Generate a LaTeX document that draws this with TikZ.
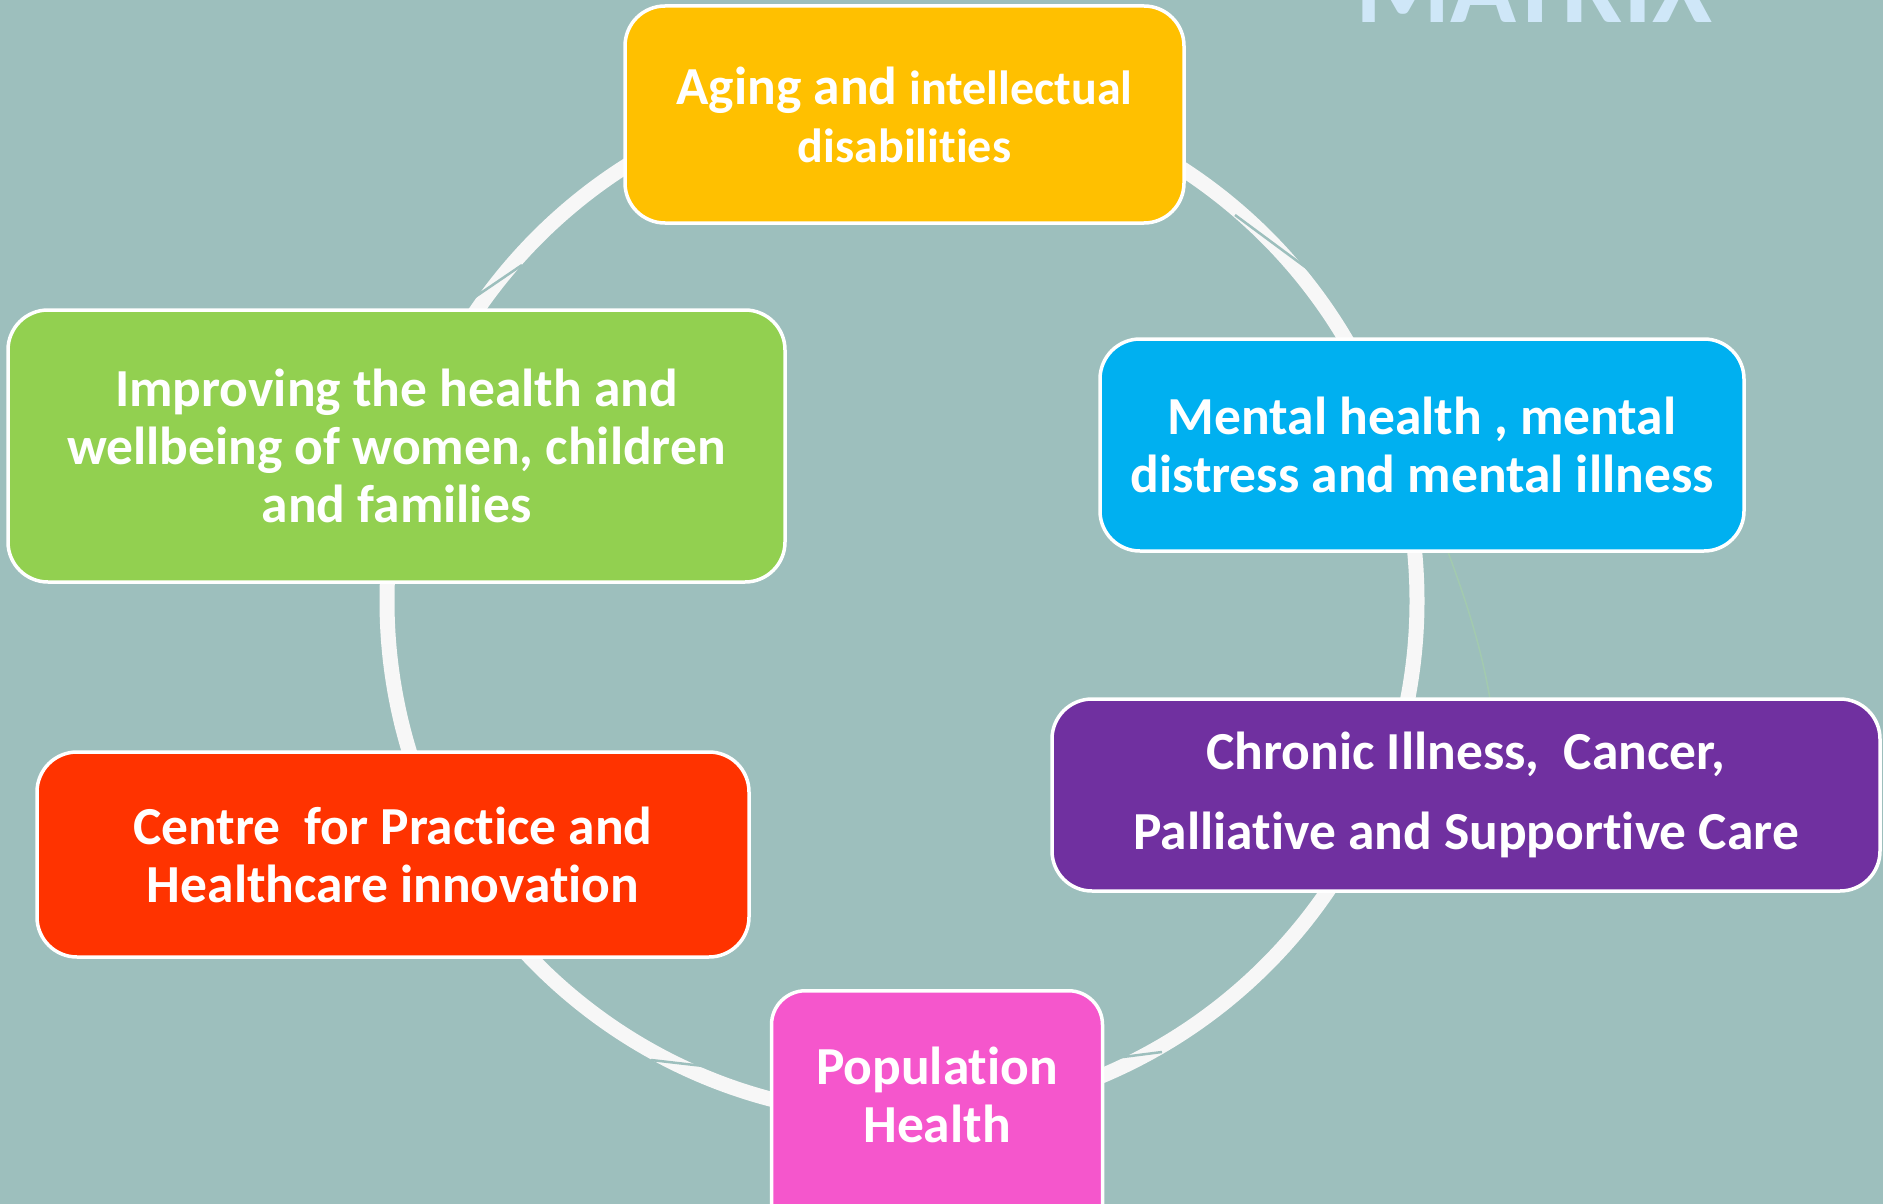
\documentclass[tikz,border=0pt]{standalone}
\usepackage{fontspec}
\setmainfont{Carlito}[Ligatures=NoCommon]
\definecolor{bgteal}{HTML}{9DBFBD}
\definecolor{ringwhite}{HTML}{F7F7F7}
\definecolor{agingyellow}{HTML}{FFC000}
\definecolor{mentalblue}{HTML}{00B0F0}
\definecolor{womengreen}{HTML}{92D050}
\definecolor{chronicpurple}{HTML}{7030A0}
\definecolor{centrered}{HTML}{FF3300}
\definecolor{popupink}{HTML}{F556CC}
\definecolor{matrixblue}{HTML}{CFE7F8}
\definecolor{ghostgreen}{HTML}{A2CAAF}
\begin{document}
\begin{tikzpicture}[x=1pt, y=-1pt,
                    ring/.style={draw=ringwhite, line width=15pt},
                    notch/.style={draw=bgteal, line width=2.5pt},
                    main node/.style={rectangle, rounded corners=40pt, draw=white, line width=3.5pt,
                                      text=white, align=center, inner sep=0pt,
                                      font=\bfseries\fontsize{53.5}{58}\selectfont}]

  \clip (0,0) rectangle (1883,1204);
  \fill[bgteal] (0,0) rectangle (1883,1204);

  \node[anchor=base west, text=matrixblue, inner sep=0pt,
        font=\bfseries\fontsize{109}{109}\selectfont] (title) at (1355,23) {MATRIX};

  % the cycle behind the boxes
  \coordinate (c) at (902,601);
  \draw[ring] (c) circle (515);
  \draw[notch] (475,297) -- (522,265);
  \draw[notch] (1235,215) -- (1312,272);
  \draw[notch] (651,1060) -- (712,1067);
  \draw[notch] (1115,1058) -- (1162,1052);
  \draw[ghostgreen, line width=1.5pt] (1448,552) .. controls (1462,590) and (1480,640) .. (1490,699);

  \node[main node, fill=agingyellow, minimum width=559pt, minimum height=217pt] (1) at (904.5,114.5)
    {Aging and {\fontsize{48}{58}\selectfont intellectual}\\{\fontsize{48}{58}\selectfont disabilities}};
  \node[main node, fill=mentalblue, minimum width=644pt, minimum height=212pt] (2) at (1422,445)
    {Mental health , mental\\distress and mental illness};
  \node[main node, fill=chronicpurple, minimum width=828pt, minimum height=192pt] (3) at (1466,795)
    {Chronic Illness,\ \ Cancer,\\[22pt]Palliative and Supportive Care};
  \node[main node, fill=popupink, rounded corners=34pt, minimum width=331pt, minimum height=260pt,
        anchor=north] (4) at (937,989) {};
  \node[text=white, align=center, font=\bfseries\fontsize{53.5}{58}\selectfont] (4t) at (937,1095)
    {Population\\Health};
  \node[main node, fill=centrered, minimum width=712pt, minimum height=205pt] (5) at (393,854.5)
    {Centre\ \ for Practice and\\Healthcare innovation};
  \node[main node, fill=womengreen, minimum width=777pt, minimum height=272pt] (6) at (396.5,446)
    {Improving the health and\\wellbeing of women, children\\and families};

\end{tikzpicture}
\end{document}
